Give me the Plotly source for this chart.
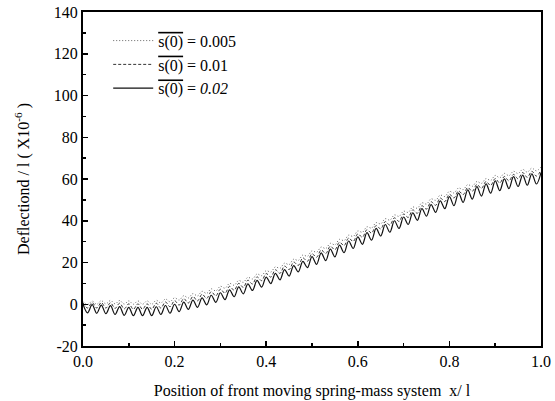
import plotly.graph_objects as go

# x positions (sampling grid, half-period steps of the oscillation)
X_POS = [round(0.01 * i, 2) for i in range(101)]

# s(0) = 0.005 (dotted)
Y_005 = [1.3, -0.2, 1.5, 0.0, 1.7, 0.2, 1.8, 0.2, 1.8, 0.1,
         1.6, 0.0, 1.6, 0.0, 1.6, 0.0, 1.9, 0.6, 2.5, 1.2,
         3.1, 2.0, 4.1, 3.0, 5.1, 4.0, 6.2, 5.2, 7.4, 6.4,
         8.6, 7.7, 10.0, 9.1, 11.4, 10.5, 12.9, 12.1, 14.5, 13.7,
         16.1, 15.4, 17.9, 17.2, 19.7, 19.0, 21.6, 21.0, 23.6, 23.0,
         25.6, 24.9, 27.4, 26.7, 29.2, 28.5, 31.1, 30.5, 33.1, 32.5,
         35.1, 34.5, 37.1, 36.5, 39.1, 38.5, 41.0, 40.3, 42.8, 42.1,
         44.6, 44.0, 46.6, 46.0, 48.6, 48.0, 50.5, 49.8, 52.3, 51.6,
         54.1, 53.3, 55.7, 54.9, 57.3, 56.5, 58.8, 57.9, 60.2, 59.3,
         61.7, 60.6, 62.7, 61.6, 63.7, 62.6, 64.6, 63.3, 65.2, 63.9,
         65.8]

# s(0) = 0.01 (dashed)
Y_01 = [0.8, -1.8, 0.8, -1.8, 0.8, -1.8, 0.7, -2.0, 0.5, -2.2,
        0.2, -2.4, 0.2, -2.4, 0.2, -2.4, 0.5, -1.8, 1.1, -1.2,
        1.7, -0.4, 2.7, 0.6, 3.7, 1.6, 4.8, 2.8, 6.0, 4.0,
        7.2, 5.3, 8.6, 6.7, 10.0, 8.1, 11.5, 9.7, 13.1, 11.3,
        14.7, 13.0, 16.5, 14.8, 18.3, 16.6, 20.2, 18.6, 22.2, 20.6,
        24.2, 22.5, 26.0, 24.3, 27.8, 26.1, 29.7, 28.1, 31.7, 30.1,
        33.7, 32.1, 35.7, 34.1, 37.7, 36.1, 39.6, 37.9, 41.4, 39.7,
        43.2, 41.6, 45.2, 43.6, 47.2, 45.6, 49.1, 47.4, 50.9, 49.2,
        52.7, 50.9, 54.3, 52.5, 55.9, 54.1, 57.4, 55.5, 58.8, 56.9,
        60.2, 58.1, 61.2, 59.1, 62.2, 60.1, 63.1, 60.8, 63.7, 61.4,
        64.3]

# s(0) = 0.02 (solid)
Y_02 = [0.0, -4.1, -0.2, -4.3, -0.4, -4.5, -0.7, -4.9, -1.1, -5.3,
        -1.5, -5.5, -1.5, -5.5, -1.5, -5.5, -1.2, -4.9, -0.6, -4.3,
        0.0, -3.5, 1.0, -2.5, 2.0, -1.5, 3.1, -0.3, 4.3, 0.9,
        5.5, 2.2, 6.9, 3.6, 8.3, 5.0, 9.8, 6.6, 11.4, 8.2,
        13.0, 9.9, 14.8, 11.7, 16.6, 13.5, 18.5, 15.5, 20.5, 17.5,
        22.8, 19.1, 24.6, 20.9, 26.4, 22.7, 28.3, 24.7, 30.3, 26.7,
        32.3, 28.7, 34.3, 30.7, 36.3, 32.7, 38.2, 34.5, 40.0, 36.3,
        41.8, 38.2, 43.8, 40.2, 45.8, 42.2, 47.7, 44.0, 49.5, 45.8,
        51.6, 47.2, 53.2, 48.8, 54.8, 50.4, 56.3, 51.8, 57.7, 53.2,
        59.1, 54.4, 60.1, 55.4, 61.1, 56.4, 61.9, 57.0, 62.5, 57.6,
        63.1]

NAMES = ["<span style='text-decoration:overline'>s(0)</span> = 0.005",
         "<span style='text-decoration:overline'>s(0)</span> = 0.01",
         "<span style='text-decoration:overline'>s(0)</span> = <i>0.02</i>"]

X_TICKS = [0.0, 0.2, 0.4, 0.6, 0.8, 1.0]
X_LABELS = ["0.0", "0.2", "0.4", "0.6", "0.8", "1.0"]
Y_TICKS = [-20, 0, 20, 40, 60, 80, 100, 120, 140]
Y_LABELS = ["-20", "0", "20", "40", "60", "80", "100", "120", "140"]

FONT = "Liberation Serif, Times New Roman, serif"

fig = go.Figure()
fig.add_trace(go.Scatter(x=X_POS, y=Y_005, name=NAMES[0], mode="lines",
                         line=dict(color="#666666", width=1, dash="1px,2px", shape="spline")))
fig.add_trace(go.Scatter(x=X_POS, y=Y_01, name=NAMES[1], mode="lines",
                         line=dict(color="#333333", width=1, dash="3px,2px", shape="spline")))
fig.add_trace(go.Scatter(x=X_POS, y=Y_02, name=NAMES[2], mode="lines",
                         line=dict(color="#111111", width=1.2, shape="spline")))

axis_common = dict(showline=True, linecolor="black", linewidth=2, mirror=True,
                   ticks="inside", tickcolor="black", ticklen=5, tickwidth=1.5,
                   showgrid=False, zeroline=False,
                   tickfont=dict(family=FONT, size=16, color="black"))

fig.update_xaxes(range=[0, 1], tickvals=X_TICKS, ticktext=X_LABELS,
                 minor=dict(dtick=0.1, ticks="inside", ticklen=3, tickcolor="black"),
                 title=dict(text="Position of front moving spring-mass system  x/ l",
                            font=dict(family=FONT, size=16, color="black"), standoff=16),
                 **axis_common)
fig.update_yaxes(range=[-20, 140], tickvals=Y_TICKS, ticktext=Y_LABELS,
                 minor=dict(dtick=10, ticks="inside", ticklen=3, tickcolor="black"),
                 title=dict(text="Deflectiond / l ( X10<sup>-6</sup> )",
                            font=dict(family=FONT, size=16, color="black"), standoff=20),
                 **axis_common)

fig.update_layout(
    width=555, height=401,
    margin=dict(l=83, r=14, t=12, b=55, autoexpand=False),
    paper_bgcolor="white", plot_bgcolor="white",
    font=dict(family=FONT, size=16, color="black"),
    legend=dict(x=0.055, y=0.965, xanchor="left", yanchor="top",
                bgcolor="rgba(0,0,0,0)", font=dict(family=FONT, size=16, color="black"),
                itemwidth=40, tracegroupgap=0),
    showlegend=True,
)

# remove the default 8px page margin so the figure sits at the window origin
fig.write_html("out.html",
               config={"displayModeBar": False, "staticPlot": True},
               post_script="document.body.style.margin='0';document.body.style.overflow='hidden';")
